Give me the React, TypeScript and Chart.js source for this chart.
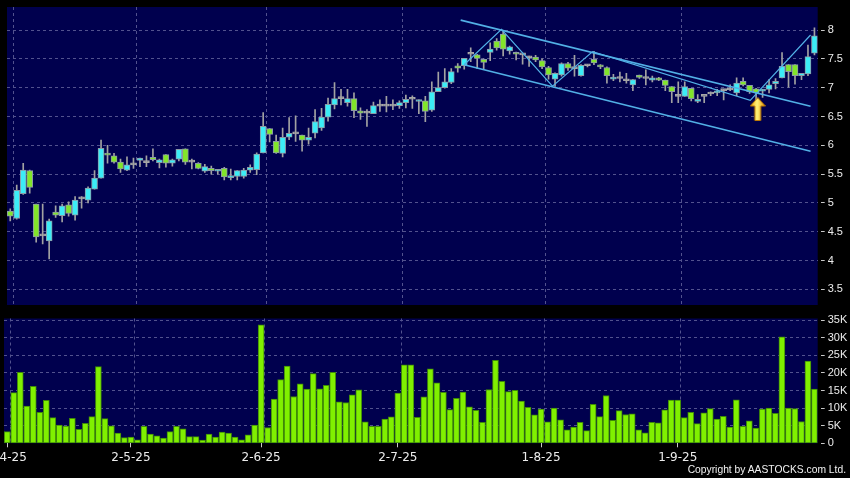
import React, { useEffect, useRef } from 'react';
import { Chart, registerables } from 'chart.js';

Chart.register(...registerables);

// ---------- data ----------
const dates = [
  '1-4-25','2-4-25','3-4-25','7-4-25','8-4-25','9-4-25','10-4-25','11-4-25','14-4-25','15-4-25',
  '16-4-25','17-4-25','22-4-25','23-4-25','24-4-25','25-4-25','28-4-25','29-4-25','30-4-25',
  '2-5-25','6-5-25','7-5-25','8-5-25','9-5-25','12-5-25','13-5-25','14-5-25','15-5-25','16-5-25',
  '19-5-25','20-5-25','21-5-25','22-5-25','23-5-25','26-5-25','27-5-25','28-5-25','29-5-25','30-5-25',
  '2-6-25','3-6-25','4-6-25','5-6-25','6-6-25','9-6-25','10-6-25','11-6-25','12-6-25','13-6-25',
  '16-6-25','17-6-25','18-6-25','19-6-25','20-6-25','23-6-25','24-6-25','25-6-25','26-6-25','27-6-25','30-6-25',
  '2-7-25','3-7-25','4-7-25','7-7-25','8-7-25','9-7-25','10-7-25','11-7-25','14-7-25','15-7-25',
  '16-7-25','17-7-25','18-7-25','21-7-25','22-7-25','23-7-25','24-7-25','25-7-25','28-7-25','29-7-25','30-7-25','31-7-25',
  '1-8-25','4-8-25','5-8-25','6-8-25','7-8-25','8-8-25','11-8-25','12-8-25','13-8-25','14-8-25','15-8-25',
  '18-8-25','19-8-25','20-8-25','21-8-25','22-8-25','25-8-25','26-8-25','27-8-25','28-8-25','29-8-25',
  '1-9-25','2-9-25','3-9-25','4-9-25','5-9-25','8-9-25','9-9-25','10-9-25','11-9-25','12-9-25',
  '15-9-25','16-9-25','17-9-25','18-9-25','19-9-25','22-9-25','23-9-25','24-9-25','25-9-25','26-9-25','29-9-25','30-9-25'
];

const monthLabels = ['1-4-25', '2-5-25', '2-6-25', '2-7-25', '1-8-25', '1-9-25'];

const open = [
  4.86,4.73,5.16,5.56,4.98,4.43,4.34,4.84,4.78,4.97,
  4.79,5.07,5.05,5.24,5.43,5.86,5.82,5.71,5.57,5.66,
  5.74,5.70,5.79,5.70,5.84,5.69,5.76,5.94,5.71,5.69,
  5.55,5.60,5.55,5.60,5.44,5.46,5.46,5.57,5.58,5.87,
  6.29,6.07,5.86,6.14,6.20,6.18,6.09,6.21,6.30,6.49,
  6.70,6.81,6.74,6.81,6.60,6.56,6.55,6.68,6.68,6.68,
  6.69,6.74,6.80,6.76,6.77,6.61,6.93,7.00,7.09,7.38,
  7.38,7.58,7.57,7.49,7.61,7.81,7.93,7.64,7.60,7.57,
  7.52,7.53,7.47,7.35,7.15,7.22,7.42,7.33,7.21,7.38,
  7.49,7.39,7.35,7.15,7.16,7.12,7.05,7.22,7.16,7.13,
  7.17,7.13,7.02,6.85,6.85,6.99,6.76,6.85,6.89,6.91,
  6.95,6.96,6.91,7.11,7.04,6.98,6.94,6.97,7.07,7.17,
  7.40,7.40,7.21,7.24,7.60
];
const high = [
  4.90,5.31,5.69,5.57,4.98,4.98,4.72,4.95,4.98,5.02,
  5.11,5.11,5.28,5.56,6.09,6.00,5.86,5.76,5.80,5.78,
  5.78,5.82,5.94,5.76,5.84,5.76,5.93,5.94,5.76,5.70,
  5.67,5.64,5.58,5.62,5.59,5.56,5.60,5.66,5.87,6.57,
  6.29,6.18,6.30,6.48,6.51,6.18,6.30,6.62,6.64,6.82,
  7.09,6.97,6.97,6.91,6.65,6.62,6.75,6.79,6.85,6.79,
  6.77,6.87,6.86,6.79,6.85,7.10,7.27,7.33,7.33,7.42,
  7.51,7.69,7.58,7.50,7.78,7.85,7.98,7.72,7.62,7.58,
  7.55,7.56,7.50,7.37,7.26,7.43,7.44,7.56,7.40,7.40,
  7.63,7.40,7.36,7.23,7.27,7.25,7.14,7.22,7.31,7.20,
  7.18,7.13,7.02,7.10,7.10,6.99,6.88,6.85,6.93,6.97,
  6.97,7.05,7.17,7.17,7.04,6.99,6.97,7.14,7.16,7.61,
  7.40,7.40,7.25,7.74,8.04
];
const low = [
  4.69,4.72,5.15,5.17,4.32,4.29,4.03,4.75,4.67,4.77,
  4.70,4.91,5.00,5.24,5.43,5.69,5.69,5.53,5.56,5.60,
  5.63,5.63,5.73,5.61,5.62,5.64,5.73,5.67,5.59,5.59,
  5.53,5.50,5.50,5.40,5.40,5.40,5.43,5.53,5.49,5.87,
  6.06,5.86,5.80,6.10,6.07,5.90,6.02,6.13,6.26,6.42,
  6.63,6.70,6.68,6.48,6.45,6.33,6.55,6.59,6.58,6.62,
  6.64,6.65,6.64,6.55,6.41,6.59,6.93,6.99,7.07,7.27,
  7.32,7.45,7.33,7.33,7.47,7.65,7.55,7.58,7.48,7.41,
  7.37,7.45,7.33,7.15,7.02,7.20,7.30,7.20,7.20,7.36,
  7.40,7.33,7.08,7.12,7.10,7.08,6.95,7.16,7.05,7.10,
  7.12,6.95,6.74,6.74,6.85,6.77,6.74,6.74,6.86,6.86,
  6.79,6.95,6.86,7.03,6.90,6.77,6.83,6.91,6.98,7.17,
  7.01,7.06,7.14,7.21,7.57
];
const close = [
  4.77,5.22,5.57,5.27,4.41,4.43,4.69,4.79,4.95,4.82,
  5.05,5.07,5.26,5.43,5.95,5.83,5.71,5.59,5.66,5.66,
  5.78,5.70,5.75,5.75,5.69,5.75,5.93,5.71,5.71,5.60,
  5.63,5.56,5.58,5.45,5.47,5.56,5.57,5.62,5.85,6.33,
  6.19,5.87,6.14,6.21,6.20,6.09,6.14,6.41,6.49,6.71,
  6.81,6.81,6.81,6.60,6.56,6.56,6.69,6.68,6.68,6.68,
  6.74,6.80,6.80,6.78,6.59,6.93,7.00,7.10,7.28,7.34,
  7.51,7.58,7.51,7.44,7.67,7.69,7.67,7.71,7.58,7.57,
  7.52,7.48,7.36,7.22,7.25,7.42,7.34,7.33,7.39,7.38,
  7.43,7.36,7.21,7.17,7.16,7.12,7.14,7.18,7.16,7.17,
  7.13,7.04,6.93,6.85,7.02,6.81,6.80,6.85,6.89,6.94,
  6.95,6.96,7.08,7.05,6.93,6.91,6.97,7.05,7.11,7.37,
  7.28,7.21,7.25,7.54,7.90
];
// volume in thousands of shares
const volumeK = [
  3.3,14.4,20.2,10.6,16.2,8.8,12.2,7.3,5.2,4.9,
  7.1,4.0,5.7,7.6,21.8,7.0,5.0,2.9,1.6,1.8,
  1.0,4.8,2.6,2.1,1.5,3.3,4.8,4.1,1.9,1.9,
  0.9,2.6,1.8,3.2,2.9,1.8,1.0,2.4,5.2,33.7,
  4.5,12.6,18.1,22.0,13.3,16.9,15.4,19.8,15.5,16.5,
  20.2,11.8,11.6,13.8,15.2,6.1,4.8,4.8,6.9,7.5,
  14.3,22.3,22.3,7.4,13.2,21.2,17.2,14.5,9.6,12.8,
  14.6,10.4,9.4,6.0,15.3,23.6,17.6,14.7,15.1,12.0,
  10.2,8.1,9.7,6.1,10.0,6.7,3.8,4.6,6.0,3.6,
  11.1,7.6,13.6,6.5,9.3,8.2,8.4,3.8,3.0,6.0,
  5.8,9.5,12.3,12.3,7.3,8.8,5.6,8.7,9.9,6.9,
  7.7,4.6,12.4,4.8,6.4,4.3,9.7,10.0,8.5,30.3,
  10.0,9.9,6.2,23.4,15.4
];

const priceTicks = [3.5, 4, 4.5, 5, 5.5, 6, 6.5, 7, 7.5, 8];
const volumeTicks = [0, 5, 10, 15, 20, 25, 30, 35];

// drawn trend lines, in (bar index, price)
const channelUpper = [{ x: 69.45, y: 8.172 }, { x: 123.4, y: 6.677 }];
const channelLower = [{ x: 69.97, y: 7.398 }, { x: 123.4, y: 5.898 }];
const zigzag = [
  { x: 69.97, y: 7.398 }, { x: 75.74, y: 8.014 }, { x: 83.61, y: 7.025 },
  { x: 89.79, y: 7.627 }, { x: 114.1, y: 6.779 }, { x: 123.4, y: 7.914 }
];
const signalArrow = [{ x: 115.25, y: 6.63 }];

// ---------- style ----------
const N = dates.length;
const monthIdx = dates.map((d, i) => (monthLabels.includes(d) ? i : -1)).filter((i) => i >= 0);
const PLOT_BG = '#00004e';
const GRID = '#52528e';
const UP = '#3cecf6';
const DOWN = '#82e52a';
const DOJI = '#a6a6a6';
const WICK = '#a2a2a2';
const TREND = '#52b0e6';
const AXIS_W = 32.3;
const TEXT = '#ececec';
const Y_FONT = { family: '"Liberation Sans", Arial, sans-serif', size: 11 };
const X_FONT = { family: '"DejaVu Sans", Verdana, sans-serif', size: 12 };

const bgPlugin = {
  id: 'plotBg',
  beforeDraw(chart: any) {
    const { ctx, chartArea: a } = chart;
    ctx.save();
    ctx.fillStyle = PLOT_BG;
    ctx.fillRect(a.left, a.top, a.right - a.left, a.bottom - a.top);
    ctx.restore();
  }
};

function monthGridAxis(): any {
  return {
    type: 'linear',
    position: 'bottom',
    min: -0.5,
    max: N - 0.5,
    bounds: 'data',
    offset: false,
    afterBuildTicks: (s: any) => { s.ticks = monthIdx.map((i) => ({ value: i + 0.5 })); },
    afterFit: (s: any) => { s.height = 0; s.paddingLeft = 0; s.paddingRight = 0; },
    ticks: { display: false },
    grid: { display: true, drawTicks: false, offset: false, color: GRID, lineWidth: 1 },
    border: { display: false, dash: [3, 3] }
  };
}

function valueAxis(min: number, max: number, ticks: number[], fmt: (v: number) => string): any {
  return {
    type: 'linear',
    position: 'right',
    min, max,
    bounds: 'data',
    afterBuildTicks: (s: any) => { s.ticks = ticks.map((v) => ({ value: v })); },
    afterFit: (s: any) => { s.width = AXIS_W; s.paddingTop = 0; s.paddingBottom = 0; },
    ticks: { color: TEXT, font: Y_FONT, padding: 3, callback: (v: any) => fmt(Number(v)) },
    grid: {
      color: (c: any) => (c.tick && c.tick.value === 0 ? 'transparent' : GRID),
      lineWidth: 1,
      drawTicks: true,
      tickLength: 7,
      tickColor: '#c8c8c8',
      tickBorderDash: [0, 3, 4, 30]
    },
    border: { display: false, dash: [3, 3] }
  };
}

function makeArrow(): HTMLCanvasElement {
  const c = document.createElement('canvas');
  c.width = 16; c.height = 24;
  const g = c.getContext('2d') as CanvasRenderingContext2D;
  const grad = g.createLinearGradient(0, 0, 16, 0);
  grad.addColorStop(0, '#f0a000');
  grad.addColorStop(0.45, '#fff27a');
  grad.addColorStop(1, '#e89400');
  g.beginPath();
  g.moveTo(8, 0.5);
  g.lineTo(15.5, 9);
  g.lineTo(11, 9);
  g.lineTo(11, 23.5);
  g.lineTo(5, 23.5);
  g.lineTo(5, 9);
  g.lineTo(0.5, 9);
  g.closePath();
  g.fillStyle = grad;
  g.fill();
  g.strokeStyle = '#b87400';
  g.lineWidth = 1;
  g.stroke();
  return c;
}

export default function App() {
  const refA = useRef<HTMLCanvasElement>(null);
  const refB = useRef<HTMLCanvasElement>(null);

  useEffect(() => {
    Chart.defaults.font.family = '"Liberation Sans", Arial, sans-serif';
    const arrow = makeArrow();
    const bodyColor = open.map((o, i) => (close[i] > o ? UP : close[i] < o ? DOWN : DOJI));
    const bodyBorder = open.map((o, i) => (close[i] === o ? DOJI : '#8c9aa6'));

    const lineDs = (data: any[], width: number) => ({
      type: 'line',
      data,
      xAxisID: 'x2',
      yAxisID: 'y',
      borderColor: TREND,
      borderWidth: width,
      pointRadius: 0,
      fill: false,
      tension: 0
    });

    const chartA = new Chart(refA.current as HTMLCanvasElement, {
      type: 'bar',
      data: {
        labels: dates,
        datasets: [
          {
            type: 'line',
            data: signalArrow,
            xAxisID: 'x2',
            yAxisID: 'y',
            showLine: false,
            pointStyle: arrow,
            pointRadius: 6,
            clip: false
          } as any,
          lineDs(zigzag, 1.2) as any,
          lineDs(channelUpper, 1.6) as any,
          lineDs(channelLower, 1.6) as any,
          {
            data: open.map((o, i) => [o, close[i]]),
            backgroundColor: bodyColor,
            borderColor: bodyBorder,
            borderWidth: 1,
            borderSkipped: false,
            barThickness: 6,
            minBarLength: 2,
            grouped: false,
            xAxisID: 'x',
            yAxisID: 'y'
          } as any,
          {
            data: low.map((l, i) => [l, high[i]]),
            backgroundColor: WICK,
            borderWidth: 0,
            barThickness: 1,
            grouped: false,
            xAxisID: 'x',
            yAxisID: 'y'
          } as any
        ]
      },
      options: {
        responsive: false,
        animation: false,
        devicePixelRatio: 1,
        events: [],
        layout: { padding: { left: 4, right: 0, top: 5, bottom: 6 } },
        plugins: { legend: { display: false }, tooltip: { enabled: false } },
        scales: {
          x: { type: 'category', display: false, offset: true },
          x2: monthGridAxis(),
          y: valueAxis(3.23, 8.4, priceTicks, (v) => String(v))
        }
      } as any,
      plugins: [bgPlugin]
    });

    const chartB = new Chart(refB.current as HTMLCanvasElement, {
      type: 'bar',
      data: {
        labels: dates,
        datasets: [
          {
            data: volumeK,
            backgroundColor: '#80f000',
            borderColor: '#3f8a08',
            borderWidth: 1,
            borderSkipped: false,
            barThickness: 6,
            xAxisID: 'x',
            yAxisID: 'y'
          } as any
        ]
      },
      options: {
        responsive: false,
        animation: false,
        devicePixelRatio: 1,
        events: [],
        layout: { padding: { left: 4, right: 0, top: 6.5, bottom: 14.7 } },
        plugins: { legend: { display: false }, tooltip: { enabled: false } },
        scales: {
          x: {
            type: 'category',
            position: 'bottom',
            offset: true,
            afterFit: (s: any) => { s.height = 20; s.paddingLeft = 0; s.paddingRight = 0; },
            ticks: {
              autoSkip: false,
              maxRotation: 0,
              minRotation: 0,
              color: TEXT,
              font: X_FONT,
              padding: 3,
              callback: (_v: any, i: number) => (monthLabels.includes(dates[i]) ? dates[i] : '')
            },
            grid: {
              drawOnChartArea: false,
              drawTicks: true,
              tickLength: 4,
              offset: false,
              tickColor: (c: any) => (monthLabels.includes(dates[c.index]) ? '#c8c8c8' : 'transparent')
            },
            border: { display: false }
          },
          x2: monthGridAxis(),
          y: valueAxis(0, 35.5, volumeTicks, (v) => (v === 0 ? '0' : v + 'K'))
        }
      } as any,
      plugins: [bgPlugin]
    });

    return () => {
      chartA.destroy();
      chartB.destroy();
    };
  }, []);

  return (
    <div style={{ position: 'fixed', left: 0, top: 0, width: 850, height: 478, background: '#000', overflow: 'hidden' }}>
      <canvas ref={refA} width={850} height={312} style={{ position: 'absolute', left: 0, top: 0, width: 850, height: 312 }} />
      <canvas ref={refB} width={850} height={166} style={{ position: 'absolute', left: 0, top: 312, width: 850, height: 166 }} />
      <div
        style={{
          position: 'absolute',
          right: 4,
          top: 464,
          font: '10.3px "Liberation Sans", Arial, sans-serif',
          lineHeight: '12px',
          color: '#f2f2f2',
          whiteSpace: 'nowrap'
        }}
      >
        Copyright by AASTOCKS.com Ltd.
      </div>
    </div>
  );
}
